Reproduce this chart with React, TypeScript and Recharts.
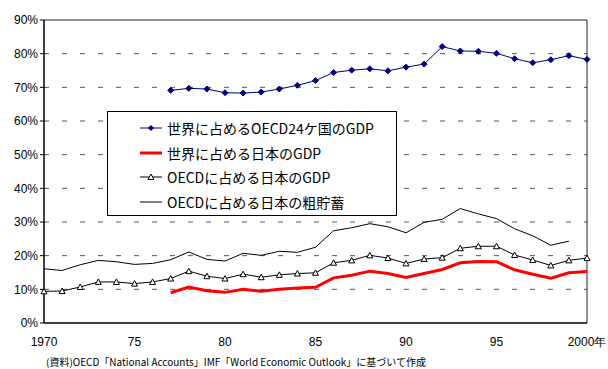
import React from "react";
import {
  LineChart,
  Line,
  XAxis,
  YAxis,
  CartesianGrid,
  Legend,
  ReferenceLine,
} from "recharts";

// 年 (1970〜2000)
const years = [
  1970, 1971, 1972, 1973, 1974, 1975, 1976, 1977, 1978, 1979, 1980, 1981, 1982,
  1983, 1984, 1985, 1986, 1987, 1988, 1989, 1990, 1991, 1992, 1993, 1994, 1995,
  1996, 1997, 1998, 1999, 2000,
];

// 世界に占めるOECD24ケ国のGDP (%), 1977年から
const oecdWorld = [
  null, null, null, null, null, null, null, 69.1, 69.7, 69.5, 68.4, 68.3, 68.6,
  69.5, 70.6, 72.0, 74.4, 75.1, 75.5, 74.9, 76.0, 76.9, 82.1, 80.8, 80.7, 80.1,
  78.5, 77.3, 78.2, 79.4, 78.3,
];

// 世界に占める日本のGDP (%), 1977年から
const japanWorld = [
  null, null, null, null, null, null, null, 9.0, 10.7, 9.6, 9.1, 10.0, 9.4,
  10.0, 10.4, 10.6, 13.4, 14.2, 15.4, 14.7, 13.5, 14.7, 15.9, 17.9, 18.3, 18.2,
  15.8, 14.5, 13.3, 14.9, 15.3,
];

// OECDに占める日本のGDP (%)
const japanOecd = [
  9.4, 9.5, 10.7, 12.2, 12.2, 11.7, 12.2, 13.2, 15.4, 13.9, 13.2, 14.5, 13.6,
  14.3, 14.7, 14.9, 17.9, 18.6, 20.1, 19.3, 17.7, 19.0, 19.4, 22.2, 22.8, 22.8,
  20.2, 18.7, 17.1, 18.6, 19.3,
];

// OECDに占める日本の粗貯蓄 (%), 1999年まで
const japanSavings = [
  16.1, 15.6, 17.3, 18.6, 18.2, 17.4, 17.7, 18.8, 21.1, 18.9, 18.4, 20.7, 20.1,
  21.3, 21.0, 22.5, 27.4, 28.3, 29.5, 28.6, 26.8, 29.9, 30.8, 34.0, 32.4, 31.0,
  28.0, 25.9, 23.1, 24.3, null,
];

const xTicks = [1970, 1975, 1980, 1985, 1990, 1995, 2000];
const xTickLabels = ["1970", "75", "80", "85", "90", "95", "2000年"];
const yTicks = [0, 10, 20, 30, 40, 50, 60, 70, 80, 90];

const seriesNames = [
  "世界に占めるOECD24ケ国のGDP",
  "世界に占める日本のGDP",
  "OECDに占める日本のGDP",
  "OECDに占める日本の粗貯蓄",
];

const data = years.map((year, i) => ({
  year,
  oecdWorld: oecdWorld[i],
  japanWorld: japanWorld[i],
  japanOecd: japanOecd[i],
  japanSavings: japanSavings[i],
}));

const JP_FONT = '"Noto Sans CJK JP", "Liberation Sans", Arial, sans-serif';
const AXIS_FONT = '"Liberation Sans", Arial, sans-serif';

const Diamond = (props: any) => {
  const { cx, cy, index } = props;
  if (cx == null || cy == null || props.value == null) return <g key={index} />;
  const r = 3;
  return (
    <path
      key={index}
      d={`M${cx},${cy - r}L${cx + r},${cy}L${cx},${cy + r}L${cx - r},${cy}Z`}
      fill="#000080"
      stroke="#000080"
    />
  );
};

const Triangle = (props: any) => {
  const { cx, cy, index } = props;
  if (cx == null || cy == null || props.value == null) return <g key={index} />;
  const r = 3;
  return (
    <path
      key={index}
      d={`M${cx},${cy - r}L${cx + r},${cy + r - 0.5}L${cx - r},${cy + r - 0.5}Z`}
      fill="#fff"
      stroke="#000"
      strokeWidth={1}
    />
  );
};

const legendSamples = [
  { color: "#000080", width: 1, marker: "diamond" },
  { color: "#ff0000", width: 3, marker: "none" },
  { color: "#000", width: 1, marker: "triangle" },
  { color: "#000", width: 1, marker: "none" },
];

const LegendBox = () => (
  <div
    style={{
      width: 288,
      height: 99,
      border: "1px solid #000",
      background: "#fff",
      fontFamily: JP_FONT,
      fontSize: 14,
      color: "#000",
      paddingTop: 4,
      boxSizing: "content-box",
    }}
  >
    {seriesNames.map((name, i) => {
      const s = legendSamples[i];
      return (
        <div
          key={name}
          style={{ display: "flex", alignItems: "center", height: 24.5, paddingLeft: 32 }}
        >
          <svg width={24} height={12} style={{ marginRight: 3 }}>
            <line x1={0} y1={6} x2={22} y2={6} stroke={s.color} strokeWidth={s.width} />
            {s.marker === "diamond" && (
              <path d="M11,3L14,6L11,9L8,6Z" fill="#000080" />
            )}
            {s.marker === "triangle" && (
              <path d="M11,3L14,8.5L8,8.5Z" fill="#fff" stroke="#000" />
            )}
          </svg>
          <span style={{ lineHeight: "24px" }}>{name}</span>
        </div>
      );
    })}
  </div>
);

export default function App() {
  return (
    <div style={{ position: "absolute", left: 0, top: 0, width: 608, height: 369, background: "#fff" }}>
      <LineChart
        width={608}
        height={369}
        data={data}
        margin={{ top: 20, right: 21, left: 0, bottom: 26 }}
      >
        <CartesianGrid
          vertical={false}
          stroke="#555"
          strokeDasharray="5 13"
          horizontalValues={[10, 20, 30, 40, 50, 60, 70, 80]}
        />
        <XAxis
          dataKey="year"
          type="number"
          domain={[1970, 2000]}
          ticks={xTicks}
          tickFormatter={(v: number) => xTickLabels[xTicks.indexOf(v)]}
          tickLine={false}
          axisLine={{ stroke: "#000", strokeWidth: 1.5 }}
          height={20}
          tick={{ fontSize: 12, fill: "#000", fontFamily: AXIS_FONT }}
          tickMargin={8}
          interval={0}
        />
        <YAxis
          type="number"
          domain={[0, 90]}
          ticks={yTicks}
          tickFormatter={(v: number) => `${v}%`}
          width={44}
          axisLine={{ stroke: "#000", strokeWidth: 1.5 }}
          tickLine={{ stroke: "#000" }}
          tickSize={4}
          tick={{ fontSize: 12, fill: "#000", fontFamily: AXIS_FONT }}
          interval={0}
        />
        <ReferenceLine y={90} stroke="#222" strokeWidth={1} />
        <ReferenceLine x={2000} stroke="#222" strokeWidth={1} />
        <Legend
          layout="vertical"
          align="center"
          verticalAlign="middle"
          wrapperStyle={{ left: 107, top: 111, width: 290 }}
          content={() => <LegendBox />}
        />
        <Line
          type="linear"
          dataKey="japanSavings"
          name={seriesNames[3]}
          stroke="#000"
          strokeWidth={1}
          dot={false}
          isAnimationActive={false}
        />
        <Line
          type="linear"
          dataKey="japanOecd"
          name={seriesNames[2]}
          stroke="#000"
          strokeWidth={1}
          dot={<Triangle />}
          isAnimationActive={false}
        />
        <Line
          type="linear"
          dataKey="japanWorld"
          name={seriesNames[1]}
          stroke="#ff0000"
          strokeWidth={3}
          dot={false}
          isAnimationActive={false}
        />
        <Line
          type="linear"
          dataKey="oecdWorld"
          name={seriesNames[0]}
          stroke="#000080"
          strokeWidth={1}
          dot={<Diamond />}
          isAnimationActive={false}
        />
      </LineChart>
      <div
        style={{
          position: "absolute",
          left: 46,
          top: 355,
          fontFamily: JP_FONT,
          fontSize: 10,
          color: "#000",
          whiteSpace: "nowrap",
          lineHeight: "14px",
        }}
      >
        (資料)OECD「National Accounts」IMF「World Economic Outlook」に基づいて作成
      </div>
    </div>
  );
}
